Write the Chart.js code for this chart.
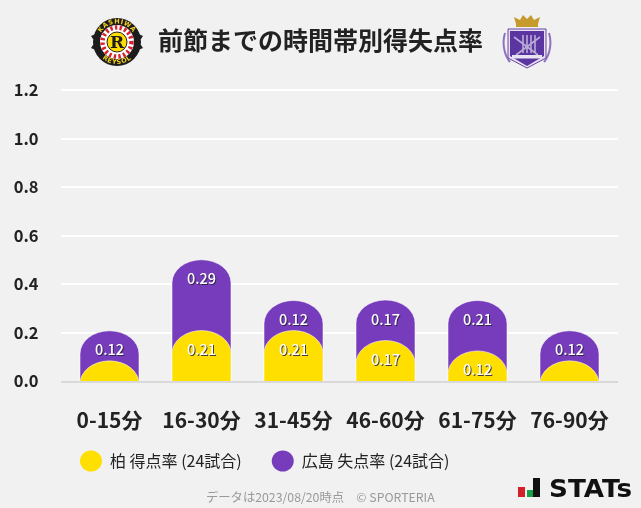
<!DOCTYPE html>
<html>
<head>
<meta charset="utf-8">
<script src="https://cdn.jsdelivr.net/npm/chart.js@4"></script>
<style>
  html, body { margin: 0; padding: 0; background: #f1f1f1; }
  #wrap { position: relative; width: 641px; height: 508px; overflow: hidden; }
  canvas { position: absolute; left: 0; top: 0; }
  svg { position: absolute; }
  #note { position: absolute; left: 206px; top: 488px; font: 12.3px "Noto Sans CJK JP"; color: #999; white-space: pre; }
</style>
</head>
<body>
<div id="wrap">
  <canvas id="c" width="641" height="508"></canvas>

  <svg style="left:88px;top:14px" width="58" height="56" viewBox="0 0 58 56">
    <defs>
      <path id="arcTop" d="M10.5 28 A18.5 18.5 0 0 1 47.5 28"/>
      <path id="arcBot" d="M7 28 A22 22 0 0 0 51 28"/>
    </defs>
    <path d="M3 22 L12 18 V25 H5 Z M55 22 L46 18 V25 H53 Z M3 34 L12 38 V31 H5 Z M55 34 L46 38 V31 H53 Z" fill="#222"/>
    <circle cx="29" cy="28" r="24" fill="#1c1c1c"/>
    <text font-family="DejaVu Sans" font-weight="bold" font-size="6.5" fill="#f5d21f" letter-spacing="0.6"><textPath href="#arcTop" startOffset="50%" text-anchor="middle">KASHIWA</textPath></text>
    <text font-family="DejaVu Sans" font-weight="bold" font-size="6.5" fill="#f5d21f" letter-spacing="0.6"><textPath href="#arcBot" startOffset="50%" text-anchor="middle">REYSOL</textPath></text>
    <circle cx="29" cy="28" r="17" fill="#fff"/>
    <circle cx="29" cy="28" r="14.5" fill="none" stroke="#d7232e" stroke-width="4.5" stroke-dasharray="2.4 2.3"/>
    <circle cx="29" cy="28" r="10" fill="#ffdd00" stroke="#222" stroke-width="1"/>
    <text x="29" y="34" text-anchor="middle" font-family="DejaVu Serif" font-weight="bold" font-size="17" fill="#1c1c1c">R</text>
  </svg>

  <svg style="left:501px;top:13px" width="52" height="57" viewBox="0 0 52 57">
    <path d="M15 11 L13 4 L19 7 L22 2 L26 6 L30 2 L33 7 L39 4 L37 11 Z" fill="#c79a2d"/>
    <rect x="15" y="11" width="22" height="3" fill="#c79a2d"/>
    <path d="M4 20 C1 30 3 42 9 49 M48 20 C51 30 49 42 43 49" fill="none" stroke="#8d73bf" stroke-width="2"/>
    <path d="M7 16 H45 V45 L26 55 L7 45 Z" fill="#e6e0f1" stroke="#6a44a8" stroke-width="1"/>
    <path d="M9 18 H43 V43 L26 53 L9 43 Z" fill="#5b36a0"/>
    <path d="M13 24 L37 42 M39 24 L15 42 M22 22 V40 M26 22 V40 M30 22 V40 M34 22 V40" stroke="#b9acd8" stroke-width="1.6" fill="none"/>
    <rect x="11" y="42" width="30" height="3.5" fill="#e8e3f3"/>
  </svg>

  <div id="note">データは2023/08/20時点　© SPORTERIA</div>

  <svg style="left:516px;top:474px" width="122" height="28" viewBox="0 0 122 28">
    <rect x="2" y="13" width="7" height="10" fill="#d5202a"/>
    <rect x="11" y="16" width="6" height="7" fill="#16a04a"/>
    <rect x="17" y="4" width="7" height="19" fill="#111"/>
    <text x="33" y="23" font-family="DejaVu Sans" font-weight="bold" font-size="24" fill="#111" textLength="83" lengthAdjust="spacingAndGlyphs">STATs</text>
  </svg>
</div>

<script>
const periods = ["0-15分", "16-30分", "31-45分", "46-60分", "61-75分", "76-90分"];
const kashiwaFor = [0.083, 0.208, 0.208, 0.167, 0.124, 0.083];
const hiroshimaAgainst = [0.124, 0.292, 0.124, 0.167, 0.208, 0.124];
const yTicks = [0, 0.2, 0.4, 0.6, 0.8, 1.0, 1.2];
const colors = { yellow: "#ffdf00", purple: "#763cbb", grid: "#ffffff", base: "#d9d9d9", text: "#222222" };
const fontName = '"Noto Sans CJK JP"';

// rounded bar tops are elliptical in the original, chart.js only does circular ones
const domeBars = {
  id: "domeBars",
  beforeDatasetDraw(chart, args) {
    const ctx = chart.ctx;
    const zero = chart.scales.y.getPixelForValue(0);
    const ds = chart.data.datasets[args.index];
    args.meta.data.forEach((bar) => {
      const rx = bar.width / 2;
      const ry = 23;
      ctx.save();
      ctx.beginPath();
      ctx.rect(bar.x - rx - 2, 0, bar.width + 4, zero);
      ctx.clip();
      ctx.beginPath();
      ctx.moveTo(bar.x - rx, zero + ry);
      ctx.lineTo(bar.x - rx, bar.y + ry);
      ctx.ellipse(bar.x, bar.y + ry, rx, ry, 0, Math.PI, 2 * Math.PI);
      ctx.lineTo(bar.x + rx, zero + ry);
      ctx.closePath();
      ctx.fillStyle = ds.backgroundColor;
      ctx.fill();
      ctx.strokeStyle = "rgba(255,255,255,0.55)";
      ctx.lineWidth = 1;
      ctx.stroke();
      ctx.restore();
    });
    return false;
  },
};

// grid runs a bit wider than the plot area
const wideGrid = {
  id: "wideGrid",
  beforeDatasetsDraw(chart) {
    const ctx = chart.ctx;
    const y = chart.scales.y;
    ctx.save();
    ctx.fillStyle = colors.grid;
    y.ticks.forEach((t) => {
      if (t.value === 0) return;
      const py = Math.round(y.getPixelForValue(t.value));
      ctx.fillRect(61, py - 1, 557, 2);
    });
    ctx.restore();
  },
  afterDatasetsDraw(chart) {
    const ctx = chart.ctx;
    const py = Math.round(chart.scales.y.getPixelForValue(0));
    ctx.fillStyle = colors.base;
    ctx.fillRect(61, py, 557, 2);
  },
};

const barLabels = {
  id: "barLabels",
  afterDatasetsDraw(chart) {
    const ctx = chart.ctx;
    ctx.save();
    ctx.font = "500 14.5px " + fontName;
    ctx.textAlign = "center";
    ctx.textBaseline = "middle";
    chart.data.datasets.forEach((ds, i) => {
      chart.getDatasetMeta(i).data.forEach((bar, k) => {
        if (ds.data[k] < 0.1) return;
        const txt = ds.data[k].toFixed(2);
        ctx.fillStyle = "rgba(40,30,60,0.85)";
        ctx.fillText(txt, bar.x + 1, bar.y + 20);
        ctx.fillStyle = "#ffffff";
        ctx.fillText(txt, bar.x, bar.y + 19);
      });
    });
    ctx.restore();
  },
};

const placeBlocks = {
  id: "placeBlocks",
  afterLayout(chart) {
    chart.legend.left = 50;
    chart.legend.top = 423;
    chart.titleBlock.left = 0;
    chart.titleBlock.right = 641;
  },
};

new Chart(document.getElementById("c").getContext("2d"), {
  type: "bar",
  data: {
    labels: periods,
    datasets: [
      { label: "柏 得点率 (24試合)", data: kashiwaFor, backgroundColor: colors.yellow, order: 1 },
      { label: "広島 失点率 (24試合)", data: hiroshimaAgainst, backgroundColor: colors.purple, order: 2 },
    ],
  },
  plugins: [wideGrid, domeBars, barLabels, placeBlocks],
  options: {
    responsive: false,
    animation: false,
    layout: { padding: { left: 0, right: 25.5, top: 0, bottom: 0 } },
    datasets: { bar: { barPercentage: 1, categoryPercentage: 59 / 92 } },
    scales: {
      x: {
        stacked: true,
        grid: { display: false },
        border: { display: false },
        ticks: { color: colors.text, font: { family: fontName, size: 21, weight: "bold" }, padding: 18, maxRotation: 0 },
        afterFit(s) { s.height = 71; },
      },
      y: {
        stacked: true,
        min: 0,
        max: 1.2,
        grid: { display: false },
        border: { display: false },
        afterBuildTicks(s) { s.ticks = yTicks.map((v) => ({ value: v })); },
        ticks: {
          color: colors.text,
          font: { family: fontName, size: 16.5, weight: "bold" },
          padding: 17,
          callback: (v) => v.toFixed(1),
        },
        afterFit(s) { s.width = 63.5; },
      },
    },
    plugins: {
      tooltip: { enabled: false },
      title: {
        display: true,
        text: "前節までの時間帯別得失点率",
        color: colors.text,
        font: { family: fontName, size: 25, weight: "bold" },
        padding: { top: 25, bottom: 35 },
      },
      legend: {
        position: "bottom",
        align: "start",
        labels: {
          usePointStyle: true,
          pointStyle: "circle",
          pointStyleWidth: 22,
          boxHeight: 15,
          padding: 30,
          color: colors.text,
          font: { family: fontName, size: 16 },
        },
      },
    },
  },
});
</script>
</body>
</html>
